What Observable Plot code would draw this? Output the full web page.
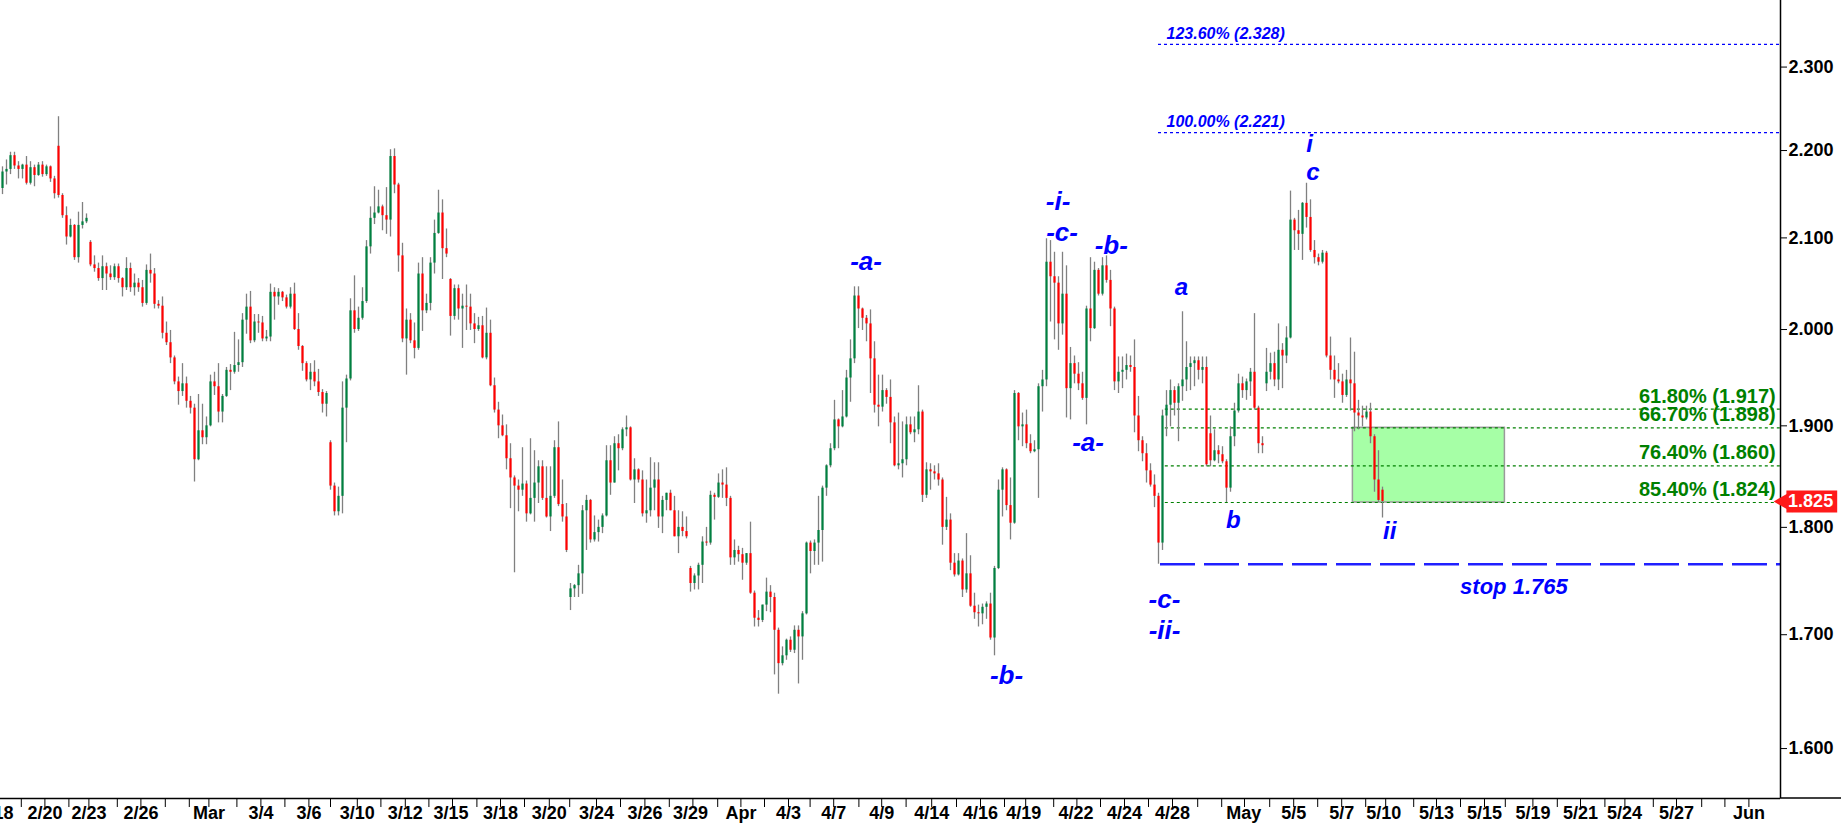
<!DOCTYPE html>
<html><head><meta charset="utf-8">
<script src="https://cdn.jsdelivr.net/npm/d3@7"></script>
<script src="https://cdn.jsdelivr.net/npm/@observablehq/plot@0.6"></script>
<style>
html,body{margin:0;padding:0;background:#fff;}
#chart{width:1841px;height:823px;overflow:hidden;}
#chart svg{display:block;}
</style></head><body><div id="chart"></div>
<script>
const opens = [
2.156,2.175,2.178,2.194,2.182,2.178,2.183,2.162,2.180,2.171,
2.183,2.172,2.181,2.167,2.205,2.148,2.125,2.101,2.114,2.078,
2.114,2.118,2.095,2.070,2.066,2.055,2.068,2.060,2.056,2.068,
2.055,2.045,2.066,2.045,2.050,2.045,2.028,2.064,2.060,2.027,
2.025,1.996,1.986,1.970,1.945,1.935,1.943,1.925,1.918,1.866,
1.895,1.888,1.900,1.945,1.940,1.914,1.930,1.957,1.955,1.962,
1.965,2.010,2.024,1.988,2.008,2.007,1.990,1.992,2.040,2.035,
2.040,2.034,2.024,2.038,2.000,1.982,1.964,1.947,1.955,1.945,
1.934,1.922,1.883,1.840,1.815,1.830,1.918,1.948,2.020,2.000,
2.012,2.030,2.090,2.122,2.128,2.135,2.125,2.120,2.193,2.160,
2.080,1.990,2.010,1.988,1.980,2.060,2.020,2.028,2.072,2.105,
2.128,2.088,2.054,2.014,2.044,2.022,2.025,2.024,2.006,2.000,
2.004,1.970,1.996,1.941,1.916,1.900,1.890,1.867,1.848,1.840,
1.836,1.842,1.813,1.828,1.843,1.859,1.828,1.810,1.830,1.878,
1.822,1.810,1.734,1.742,1.745,1.756,1.816,1.826,1.788,1.795,
1.800,1.811,1.865,1.843,1.882,1.877,1.896,1.898,1.846,1.856,
1.846,1.813,1.816,1.838,1.846,1.810,1.826,1.833,1.816,1.791,
1.800,1.796,1.761,1.747,1.754,1.764,1.786,1.785,1.831,1.829,
1.843,1.841,1.828,1.771,1.778,1.774,1.766,1.775,1.738,1.715,
1.713,1.727,1.739,1.734,1.704,1.674,1.681,1.695,1.686,1.704,
1.698,1.719,1.785,1.777,1.785,1.797,1.838,1.860,1.877,1.906,
1.899,1.909,1.949,1.969,2.036,2.022,2.012,2.006,1.969,1.921,
1.919,1.936,1.929,1.903,1.860,1.862,1.866,1.901,1.893,1.896,
1.914,1.831,1.856,1.854,1.852,1.846,1.800,1.807,1.766,1.755,
1.768,1.741,1.756,1.726,1.720,1.719,1.725,1.728,1.697,1.761,
1.836,1.856,1.821,1.804,1.933,1.899,1.901,1.882,1.874,1.876,
1.940,1.947,2.073,2.057,2.050,2.006,2.038,1.938,1.964,1.953,
1.943,1.928,2.022,2.001,2.064,2.038,2.069,2.053,2.022,1.945,
1.955,1.957,1.962,1.960,1.910,1.885,1.872,1.855,1.841,1.830,
1.785,1.910,1.921,1.936,1.923,1.940,1.947,1.960,1.964,1.967,
1.957,1.960,1.892,1.865,1.875,1.871,1.864,1.838,1.889,1.915,
1.943,1.936,1.945,1.955,1.918,1.882,1.943,1.955,1.964,1.947,
1.978,1.972,1.991,2.120,2.108,2.104,2.139,2.123,2.086,2.078,
2.073,2.083,1.972,1.957,1.947,1.945,1.931,1.947,1.943,1.913,
1.910,1.908,1.914,1.889,1.846,1.836];
const highs = [
2.181,2.189,2.198,2.198,2.187,2.184,2.193,2.187,2.183,2.186,
2.187,2.183,2.182,2.170,2.240,2.150,2.135,2.121,2.115,2.129,
2.140,2.127,2.097,2.080,2.072,2.080,2.072,2.069,2.071,2.071,
2.056,2.078,2.072,2.060,2.055,2.053,2.070,2.082,2.066,2.031,
2.035,2.008,1.999,1.972,1.950,1.964,1.950,1.930,1.922,1.932,
1.922,1.909,1.952,1.955,1.964,1.932,1.960,1.963,1.997,1.989,
2.017,2.038,2.041,2.016,2.016,2.014,1.999,2.049,2.045,2.044,
2.041,2.037,2.045,2.050,2.017,1.983,1.966,1.964,1.967,1.958,
1.937,1.935,1.885,1.843,1.839,1.945,1.952,2.033,2.058,2.024,
2.045,2.097,2.135,2.158,2.154,2.137,2.157,2.201,2.202,2.162,
2.094,2.022,2.017,2.007,2.072,2.078,2.038,2.078,2.120,2.154,
2.143,2.110,2.055,2.048,2.048,2.038,2.048,2.038,2.017,2.013,
2.014,2.023,2.010,1.949,1.924,1.911,1.901,1.882,1.850,1.846,
1.878,1.845,1.887,1.875,1.865,1.865,1.859,1.859,1.885,1.904,
1.846,1.823,1.747,1.746,1.764,1.821,1.831,1.827,1.811,1.807,
1.813,1.880,1.880,1.889,1.891,1.898,1.910,1.899,1.867,1.857,
1.855,1.846,1.868,1.863,1.863,1.830,1.833,1.836,1.830,1.816,
1.815,1.810,1.763,1.756,1.766,1.791,1.800,1.835,1.833,1.852,
1.856,1.858,1.830,1.788,1.782,1.780,1.775,1.805,1.740,1.722,
1.727,1.752,1.745,1.738,1.706,1.689,1.696,1.698,1.708,1.708,
1.721,1.786,1.787,1.788,1.830,1.840,1.861,1.882,1.926,1.907,
1.936,1.957,1.989,2.046,2.046,2.023,2.015,2.021,1.987,1.952,
1.952,1.938,1.947,1.909,1.913,1.904,1.909,1.909,1.909,1.941,
1.916,1.863,1.862,1.860,1.862,1.848,1.829,1.813,1.775,1.775,
1.770,1.794,1.773,1.738,1.727,1.728,1.730,1.738,1.763,1.846,
1.858,1.857,1.848,1.936,1.934,1.913,1.916,1.891,1.885,1.943,
1.957,2.099,2.097,2.084,2.057,2.084,2.069,1.981,1.972,1.965,
1.955,2.025,2.078,2.073,2.066,2.078,2.080,2.064,2.024,1.971,
1.971,1.974,1.972,1.989,1.930,1.889,1.882,1.862,1.851,1.833,
1.916,1.936,1.947,1.940,1.943,2.019,1.987,1.971,1.971,1.971,
1.971,1.971,1.910,1.896,1.880,1.879,1.866,1.899,1.923,1.953,
1.950,1.948,1.959,2.017,1.920,1.889,1.980,1.975,1.976,2.006,
1.985,2.003,2.153,2.122,2.131,2.140,2.162,2.143,2.097,2.082,
2.086,2.085,1.992,1.972,1.964,1.953,1.957,1.991,1.976,1.926,
1.920,1.920,1.923,1.891,1.875,1.839];
const lows = [
2.149,2.160,2.172,2.178,2.167,2.167,2.160,2.160,2.158,2.170,
2.169,2.170,2.163,2.144,2.145,2.122,2.092,2.100,2.075,2.072,
2.110,2.116,2.068,2.062,2.052,2.042,2.042,2.053,2.053,2.050,
2.035,2.042,2.040,2.036,2.040,2.024,2.026,2.050,2.022,2.022,
1.990,1.983,1.964,1.942,1.921,1.930,1.918,1.912,1.844,1.865,
1.881,1.881,1.899,1.931,1.903,1.903,1.929,1.936,1.953,1.955,
1.960,1.995,1.985,1.986,1.996,1.987,1.987,1.987,2.010,2.026,
2.030,2.022,2.022,1.999,1.978,1.956,1.945,1.936,1.940,1.930,
1.913,1.909,1.836,1.811,1.811,1.813,1.883,1.946,1.996,1.998,
2.010,2.028,2.082,2.115,2.127,2.108,2.104,2.101,2.150,2.062,
1.986,1.952,1.985,1.969,1.978,1.998,2.017,2.020,2.060,2.104,
2.054,2.078,1.993,2.010,2.010,1.980,1.999,1.999,1.985,1.998,
1.969,1.968,1.940,1.913,1.887,1.889,1.856,1.818,1.757,1.815,
1.830,1.805,1.812,1.805,1.823,1.826,1.809,1.796,1.828,1.820,
1.805,1.776,1.722,1.734,1.734,1.737,1.778,1.785,1.786,1.786,
1.794,1.810,1.831,1.843,1.855,1.875,1.889,1.845,1.823,1.843,
1.810,1.804,1.810,1.816,1.799,1.794,1.816,1.816,1.791,1.775,
1.791,1.789,1.739,1.741,1.741,1.747,1.782,1.783,1.807,1.828,
1.828,1.820,1.764,1.764,1.767,1.750,1.764,1.737,1.707,1.707,
1.711,1.721,1.720,1.664,1.647,1.672,1.677,1.684,1.683,1.656,
1.677,1.718,1.756,1.764,1.764,1.767,1.830,1.858,1.875,1.877,
1.898,1.908,1.924,1.964,2.001,1.999,1.987,1.933,1.913,1.899,
1.914,1.922,1.882,1.859,1.856,1.848,1.860,1.891,1.883,1.891,
1.824,1.828,1.836,1.846,1.840,1.783,1.797,1.759,1.753,1.754,
1.734,1.738,1.725,1.714,1.707,1.709,1.714,1.695,1.681,1.760,
1.810,1.816,1.788,1.803,1.885,1.879,1.877,1.872,1.873,1.828,
1.914,1.940,2.008,1.989,1.978,1.994,1.908,1.906,1.943,1.936,
1.926,1.901,1.987,2.000,2.036,2.036,2.050,2.003,1.936,1.933,
1.938,1.947,1.955,1.893,1.874,1.864,1.843,1.839,1.819,1.765,
1.778,1.889,1.899,1.910,1.884,1.925,1.935,1.936,1.940,1.947,
1.943,1.859,1.859,1.864,1.862,1.862,1.824,1.834,1.879,1.913,
1.928,1.926,1.930,1.916,1.872,1.872,1.935,1.947,1.940,1.936,
1.938,1.964,1.990,2.086,2.086,2.075,2.111,2.084,2.071,2.069,
2.071,1.970,1.947,1.928,1.943,1.923,1.929,1.915,1.894,1.896,
1.899,1.906,1.882,1.834,1.824,1.809];
const closes = [
2.175,2.178,2.194,2.182,2.178,2.183,2.162,2.180,2.171,2.183,
2.172,2.181,2.167,2.150,2.148,2.125,2.101,2.114,2.078,2.114,
2.118,2.122,2.070,2.066,2.055,2.068,2.060,2.056,2.068,2.055,
2.045,2.066,2.045,2.050,2.045,2.028,2.064,2.060,2.027,2.025,
1.996,1.986,1.970,1.945,1.935,1.943,1.925,1.918,1.866,1.895,
1.888,1.900,1.945,1.940,1.914,1.930,1.957,1.955,1.962,1.965,
2.010,2.024,1.988,2.008,2.007,1.990,1.992,2.040,2.035,2.040,
2.034,2.024,2.038,2.000,1.982,1.964,1.947,1.955,1.945,1.934,
1.922,1.933,1.840,1.815,1.830,1.918,1.948,2.020,2.000,2.012,
2.030,2.090,2.122,2.128,2.135,2.125,2.120,2.193,2.160,2.080,
1.990,2.010,1.988,1.980,2.060,2.020,2.028,2.072,2.105,2.128,
2.088,2.082,2.014,2.044,2.022,2.025,2.024,2.006,2.000,2.004,
1.970,1.996,1.941,1.916,1.900,1.890,1.867,1.848,1.840,1.836,
1.842,1.813,1.828,1.843,1.859,1.828,1.810,1.830,1.878,1.822,
1.810,1.778,1.742,1.745,1.756,1.816,1.826,1.788,1.795,1.800,
1.811,1.865,1.843,1.882,1.877,1.896,1.898,1.846,1.856,1.846,
1.813,1.816,1.838,1.846,1.810,1.826,1.833,1.816,1.791,1.800,
1.796,1.791,1.747,1.754,1.764,1.786,1.785,1.831,1.829,1.843,
1.841,1.828,1.771,1.778,1.774,1.766,1.775,1.738,1.715,1.713,
1.727,1.739,1.734,1.704,1.674,1.681,1.695,1.686,1.704,1.698,
1.719,1.785,1.777,1.785,1.797,1.838,1.860,1.877,1.906,1.899,
1.909,1.949,1.969,2.036,2.022,2.012,2.006,1.969,1.921,1.919,
1.936,1.929,1.903,1.860,1.862,1.866,1.901,1.893,1.896,1.914,
1.831,1.856,1.854,1.852,1.846,1.800,1.807,1.766,1.755,1.768,
1.741,1.756,1.726,1.720,1.719,1.725,1.728,1.697,1.761,1.836,
1.856,1.821,1.804,1.933,1.899,1.901,1.882,1.874,1.876,1.940,
1.947,2.073,2.057,2.050,2.006,2.038,1.938,1.964,1.953,1.943,
1.928,2.022,2.001,2.064,2.038,2.069,2.053,2.022,1.945,1.955,
1.957,1.962,1.960,1.910,1.885,1.872,1.855,1.841,1.830,1.785,
1.910,1.921,1.936,1.923,1.940,1.947,1.960,1.964,1.967,1.957,
1.960,1.861,1.865,1.875,1.871,1.864,1.838,1.889,1.915,1.943,
1.936,1.945,1.955,1.918,1.882,1.880,1.955,1.964,1.947,1.978,
1.972,1.991,2.120,2.108,2.104,2.139,2.123,2.086,2.078,2.073,
2.083,1.972,1.957,1.947,1.945,1.931,1.947,1.943,1.913,1.910,
1.908,1.914,1.889,1.846,1.826,1.825];

// axis definitions (x in units of one candle)
const yTicks = [1.6, 1.7, 1.8, 1.9, 2.0, 2.1, 2.2, 2.3];
const xTickPos = [5.2,11.1,17.1,22.1,29.2,35.1,41.2,47.2,52.1,59.1,65.1,71.1,77.1,82.5,89.2,95.1,101.2,107.1,113.0,119.1,125.0,131.0,137.2,142.3,149.0,155.0,161.1,167.2,173.1,179.3,185.1,191.0,197.0,202.4,208.3,214.6,220.3,226.4,232.8,239.0,245.0,251.0,256.3,263.3,269.1,275.0,281.0,287.0,293.0,299.3,305.3,311.0,317.3,323.3,329.3,335.3,341.3,346.3,353.3,359.0,365.0,371.0,376.2,383.1,389.2,395.0,401.1,406.1,413.2,419.0,425.3,431.1,437.1];
const xLabelPos = [-1.1,11.1,22.1,35.1,52.1,65.1,77.1,89.2,101.2,112.6,125.0,137.2,149.0,161.1,172.5,185.1,197.0,208.3,220.3,232.8,245.0,255.8,268.9,281.0,293.0,310.8,323.3,335.3,345.8,359.0,371.0,383.1,395.0,406.0,419.0,437.1];
const xLabels = ["2/18","2/20","2/23","2/26","Mar","3/4","3/6","3/10","3/12","3/15","3/18","3/20","3/24","3/26","3/29","Apr","4/3","4/7","4/9","4/14","4/16","4/19","4/22","4/24","4/28","May","5/5","5/7","5/10","5/13","5/15","5/19","5/21","5/24","5/27","Jun"];
const xEnd = 445;

// Fibonacci levels
const fibBlue = [{pct: "123.60%", value: 2.328}, {pct: "100.00%", value: 2.221}];
const fibGreen = [{pct: "61.80%", value: 1.917}, {pct: "66.70%", value: 1.898}, {pct: "76.40%", value: 1.860}, {pct: "85.40%", value: 1.824}];
const fibBlueStart = 289.5;
const fibGreenStart = 291.2;
const stopLevel = 1.765;
const stopStart = 290;
const stopLabel = {text: "stop 1.765", x: 391.8, y: 1.744};
const zone = [{x1: 338.1, x2: 376.1, y1: 1.824, y2: 1.898}];
const lastPrice = 1.825;

// wave labels
const waveBig = [
  {text: "-a-", x: 216.4, y: 2.074},
  {text: "-b-", x: 251.5, y: 1.663},
  {text: "-i-", x: 264.4, y: 2.141},
  {text: "-c-", x: 265.4, y: 2.106},
  {text: "-b-", x: 277.7, y: 2.091},
  {text: "-a-", x: 271.9, y: 1.883},
  {text: "-c-", x: 291.0, y: 1.732},
  {text: "-ii-", x: 291.0, y: 1.704}
];
const waveSmall = [
  {text: "a", x: 295.2, y: 2.046},
  {text: "b", x: 308.2, y: 1.807},
  {text: "i", x: 327.3, y: 2.207},
  {text: "c", x: 328.1, y: 2.175},
  {text: "ii", x: 347.3, y: 1.796}
];

const bars = opens.map((o, i) => ({x: i + 0.5, open: o, high: highs[i], low: lows[i], close: closes[i]}));
const labelMap = new Map(xLabelPos.map((p, i) => [p, xLabels[i]]));
const FONT = "'Liberation Sans', Arial, Helvetica, sans-serif";
const BLUE = "#0000ff";
const GREEN = "#008000";
const TAG_RED = "#ff1a1a";

const plot = Plot.plot({
  width: 1841, height: 823,
  marginLeft: 0, marginRight: 61, marginTop: 0, marginBottom: 25,
  style: {fontFamily: FONT, background: "#ffffff", color: "#000"},
  x: {domain: [0, xEnd], axis: null, label: null},
  y: {type: "log", domain: [1.558, 2.383], axis: null, label: null},
  marks: [
    Plot.rect(zone, {x1: "x1", x2: "x2", y1: "y1", y2: "y2", fill: "#a6ffa6", stroke: "#9a9a9a", strokeWidth: 1.5}),
    Plot.ruleY(fibGreen, {y: "value", x1: fibGreenStart, x2: xEnd, stroke: GREEN, strokeWidth: 1.2, strokeDasharray: "3,3"}),
    Plot.ruleY(fibBlue, {y: "value", x1: fibBlueStart, x2: xEnd, stroke: BLUE, strokeWidth: 1.2, strokeDasharray: "3,3"}),
    Plot.ruleY([stopLevel], {x1: stopStart, x2: xEnd, stroke: "#2020ff", strokeWidth: 2.6, strokeDasharray: "35,9"}),
    Plot.ruleX(bars, {x: "x", y1: "low", y2: "high", stroke: "#808080", strokeWidth: 1.3}),
    Plot.ruleX(bars, {x: "x", y1: "open", y2: "close", stroke: d => d.close >= d.open ? "#008040" : "#ff0000", strokeWidth: 2.2}),
    Plot.text(fibGreen, {x: 443.8, y: "value", text: d => `${d.pct} (${d.value.toFixed(3)})`, textAnchor: "end", lineAnchor: "bottom", dy: -6.5, fill: GREEN, fontSize: 20, fontWeight: "bold"}),
    Plot.text(fibBlue, {x: 291.5, y: "value", text: d => `${d.pct} (${d.value.toFixed(3)})`, textAnchor: "start", lineAnchor: "bottom", dy: -5.5, fill: BLUE, fontSize: 16, fontWeight: "bold", fontStyle: "italic"}),
    Plot.text(waveBig, {x: "x", y: "y", text: "text", fill: BLUE, fontSize: 26, fontWeight: "bold", fontStyle: "italic"}),
    Plot.text(waveSmall, {x: "x", y: "y", text: "text", fill: BLUE, fontSize: 24, fontWeight: "bold", fontStyle: "italic"}),
    Plot.text([stopLabel], {x: "x", y: "y", text: "text", textAnchor: "end", fill: BLUE, fontSize: 22, fontWeight: "bold", fontStyle: "italic"}),
    Plot.ruleX([xEnd], {stroke: "#000", strokeWidth: 1.5}),
    Plot.ruleY([1.558], {stroke: "#000", strokeWidth: 1.5}),
    Plot.axisY({anchor: "right", ticks: yTicks, tickFormat: d3.format(".3f"), tickSize: 6, tickPadding: 2, fontSize: 18, fontWeight: "bold", label: null}),
    Plot.axisX({anchor: "bottom", ticks: xTickPos, tickSize: 9, tickFormat: () => "", label: null}),
    Plot.axisX({anchor: "bottom", ticks: xLabelPos, tickSize: 0, tickPadding: 8, tickFormat: d => labelMap.get(d), fontSize: 18, fontWeight: "bold", label: null}),
    // last-price tag: red box with a pointer, beyond the right edge of the plot frame
    Plot.ruleY([lastPrice], {x1: 446.6, x2: 459.3, stroke: TAG_RED, strokeWidth: 22}),
    Plot.dot([lastPrice], {x: 446.4, y: d => d, symbol: "triangle", r: 8, rotate: -90, fill: TAG_RED, stroke: null}),
    Plot.text([lastPrice], {x: 446.9, y: d => d, text: d => d.toFixed(3), textAnchor: "start", fill: "#ffffff", fontSize: 18, fontWeight: "bold"})
  ]
});

document.getElementById("chart").appendChild(plot);

// extend the bottom axis line to the window edge
const svg = d3.select(plot);
const sx = plot.scale("x"), sy = plot.scale("y");
const xr = sx.apply(xEnd), yb = sy.apply(1.558);
svg.append("line").attr("x1", xr).attr("x2", 1841).attr("y1", yb).attr("y2", yb).attr("stroke", "#000").attr("stroke-width", 1.5);
</script>
</body></html>
